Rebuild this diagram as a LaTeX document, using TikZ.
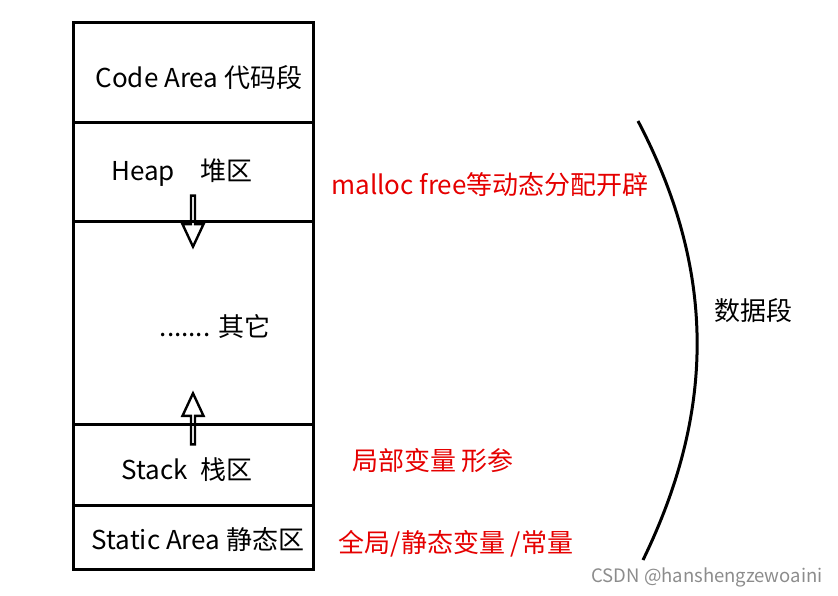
\documentclass[tikz,border=0pt]{standalone}
\usepackage{fontspec}
\setmainfont{Noto Sans CJK SC}
\usetikzlibrary{shapes.arrows}

\begin{document}
\begin{tikzpicture}[
  x=1pt, y=-1pt,
  seg/.style={draw, line width=3pt, minimum width=240pt, inner sep=0pt},
  lbl/.style={font=\fontsize{26}{30}\selectfont, inner sep=0pt},
  note/.style={font=\fontsize{26}{30}\selectfont, text=red!90!black, inner sep=0pt},
  growarrow/.style={single arrow, draw, line width=2.4pt, inner sep=0pt,
               minimum height=51pt, minimum width=21pt, single arrow head extend=5pt,
               single arrow tip angle=50}
]
\useasboundingbox (0,0) rectangle (838,595);

%% Memory segments
\node[seg, minimum height=100pt] (code)  at (193,72)    {};
\node[seg, minimum height=99pt]  (heap)  at (193,171.5) {};
\node[seg, minimum height=203pt] (other) at (193,322.5) {};
\node[seg, minimum height=81pt]  (stack) at (193,464.5) {};
\node[seg, minimum height=64pt]  (stat)  at (193,537)   {};

%% Segment labels
\node[lbl] (codetxt)  at (199,78)  {Code Area 代码段};
\node[lbl] (heaptxt)  at (182,173) {Heap\quad 堆区};
\node[lbl] (othertxt) at (215,326) {....... 其它};
\node[lbl] (stacktxt) at (187,470) {Stack\enspace 栈区};
\node[lbl] (stattxt)  at (198,540) {Static Area 静态区};

%% Growth arrows
\node[growarrow, rotate=-90] (hdown) at (193,219) {};
\node[growarrow, rotate=90]  (sup)   at (193,421) {};

%% Notes
\node[note] (heapnote)  at (490,185) {malloc free等动态分配开辟};
\node[note] (stacknote) at (433,461) {局部变量 形参};
\node[note] (statnote)  at (456,544) {全局/静态变量 /常量};

%% Data segment curve
\coordinate (ctop) at (638,121);
\coordinate (cbot) at (643,560);
\draw[line width=3pt] (ctop) .. controls (716,270) and (716,410) .. (cbot);
\node[lbl] (datatxt) at (753,311) {数据段};

\node[font=\fontsize{18.5}{22}\selectfont, text=black!45, inner sep=0pt] (mark) at (707,577) {CSDN @hanshengzewoaini};
\end{tikzpicture}
\end{document}
